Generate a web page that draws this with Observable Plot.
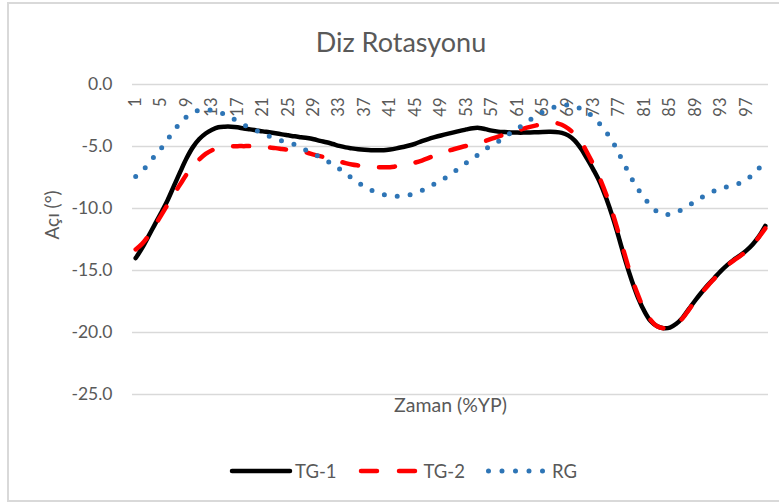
<!DOCTYPE html>
<html>
<head>
<meta charset="utf-8">
<script src="https://cdn.jsdelivr.net/npm/d3@7"></script>
<script src="https://cdn.jsdelivr.net/npm/@observablehq/plot@0.6"></script>
<style>
  html, body { margin: 0; padding: 0; background: #fff; }
  body { width: 779px; height: 504px; overflow: hidden; position: relative; font-family: Lato, "Open Sans", sans-serif; }
  #frame { position: absolute; left: 7px; top: 2px; width: 800px; height: 496px; border: 2px solid #d9d9d9; box-sizing: content-box; }
  #title { position: absolute; left: 0; width: 802px; top: 26px; text-align: center; font-size: 27px; color: #595959; line-height: 32px; }
  #chart { position: absolute; left: 0; top: 0; }
  #legend { position: absolute; left: 0; width: 806px; top: 460px; display: flex; justify-content: center; align-items: center; gap: 21px; font-size: 18.5px; color: #595959; }
  .item { display: flex; align-items: center; gap: 2px; }
  .item svg { display: block; }
</style>
</head>
<body>
<div id="frame"></div>
<div id="title">Diz Rotasyonu</div>
<div id="chart"></div>
<div id="legend"></div>
<script>
// ---- data ----
const zaman = Array.from({length: 100}, (_, i) => i + 1); // %YP categories 1..100
const xTickLabels = [1, 5, 9, 13, 17, 21, 25, 29, 33, 37, 41, 45, 49, 53, 57, 61, 65, 69, 73, 77, 81, 85, 89, 93, 97];
const yTicks = [0, -5, -10, -15, -20, -25];
const seriesNames = ["TG-1", "TG-2", "RG"];
const seriesColors = ["#000000", "#ff0000", "#2e75b6"];

const tg1 = [
  -14.0, -13.2, -12.25, -11.3, -10.35, -9.35, -8.2, -7.05, -5.95, -5.05,
  -4.4, -3.95, -3.65, -3.45, -3.4, -3.4, -3.45, -3.55, -3.62, -3.7,
  -3.78, -3.85, -3.93, -4.02, -4.1, -4.18, -4.25, -4.32, -4.42, -4.55,
  -4.66, -4.8, -4.95, -5.07, -5.15, -5.22, -5.27, -5.3, -5.3, -5.3,
  -5.24, -5.15, -5.04, -4.92, -4.76, -4.57, -4.4, -4.25, -4.11, -3.98,
  -3.86, -3.74, -3.62, -3.52, -3.5, -3.6, -3.72, -3.8, -3.84, -3.87,
  -3.88, -3.88, -3.87, -3.85, -3.83, -3.82, -3.83, -3.9, -4.1, -4.5,
  -5.15, -6.0, -6.9, -7.9, -9.2, -10.7, -12.4, -14.2, -15.8, -17.2,
  -18.3, -19.1, -19.5, -19.65, -19.6, -19.3, -18.8, -18.1, -17.4, -16.75,
  -16.15, -15.6, -15.05, -14.57, -14.15, -13.8, -13.4, -12.9, -12.25, -11.4
];
const tg2 = [
  -13.3, -12.85, -12.2, -11.4, -10.55, -9.7, -8.85, -8.05, -7.25, -6.6,
  -6.05, -5.6, -5.3, -5.15, -5.05, -5.0, -4.97, -4.97, -4.97, -5.0,
  -5.03, -5.08, -5.13, -5.2, -5.27, -5.35, -5.43, -5.5, -5.65, -5.78,
  -5.9, -6.07, -6.2, -6.34, -6.45, -6.53, -6.6, -6.64, -6.67, -6.67,
  -6.67, -6.6, -6.53, -6.42, -6.29, -6.13, -5.94, -5.73, -5.54, -5.38,
  -5.22, -5.08, -4.95, -4.84, -4.73, -4.55, -4.37, -4.2, -4.03, -3.87,
  -3.72, -3.56, -3.42, -3.3, -3.2, -3.12, -3.1, -3.25, -3.55, -4.0,
  -4.6, -5.5, -6.5, -7.6, -8.9, -10.4, -12.1, -13.9, -15.6, -17.0,
  -18.2, -19.0, -19.5, -19.65, -19.6, -19.3, -18.85, -18.15, -17.45, -16.8,
  -16.2, -15.65, -15.1, -14.6, -14.2, -13.85, -13.45, -12.95, -12.3, -11.6
];
const rg = [
  -7.42, -6.95, -6.45, -5.75, -5.15, -4.45, -3.75, -3.1, -2.6, -2.25,
  -2.08, -2.02, -2.08, -2.22, -2.4, -2.68, -2.95, -3.25, -3.48, -3.72,
  -3.95, -4.18, -4.35, -4.55, -4.68, -4.85, -5.1, -5.35, -5.6, -5.85,
  -6.13, -6.45, -6.8, -7.18, -7.55, -7.92, -8.25, -8.52, -8.72, -8.87,
  -8.98, -9.02, -8.98, -8.9, -8.74, -8.55, -8.31, -8.01, -7.74, -7.42,
  -7.07, -6.69, -6.32, -5.95, -5.6, -5.2, -4.9, -4.6, -4.22, -3.9,
  -3.58, -3.2, -2.85, -2.5, -2.22, -2.0, -1.8, -1.67, -1.65, -1.75,
  -1.97, -2.25, -2.65, -3.2, -3.85, -4.6, -5.6, -6.6, -7.6, -8.45,
  -9.15, -9.8, -10.25, -10.48, -10.45, -10.3, -10.05, -9.75, -9.42, -9.1,
  -8.82, -8.58, -8.38, -8.24, -8.12, -7.95, -7.7, -7.25, -6.75, -6.2
];

const seriesValues = [tg1, tg2, rg];
const rows = seriesNames.map((s, k) => zaman.map((t, i) => ({t, v: seriesValues[k][i], s})));

const lineStyles = {
  "TG-1": {stroke: seriesColors[0], strokeWidth: 4.5, strokeLinecap: "round"},
  "TG-2": {stroke: seriesColors[1], strokeWidth: 4.5, strokeDasharray: "16 21", strokeLinecap: "round"},
  "RG":   {stroke: seriesColors[2], strokeWidth: 5, strokeDasharray: "0 13", strokeLinecap: "round"}
};

const W = 779, H = 420;
const gray = "#595959";

const chart = Plot.plot({
  width: W,
  height: H,
  marginLeft: 132,
  marginRight: 11,
  marginTop: 84,
  marginBottom: 26,
  style: {fontFamily: "Lato, 'Open Sans', sans-serif", color: gray, background: "transparent", overflow: "visible"},
  x: {type: "linear", domain: [0.5, 100.5], axis: null},
  y: {domain: [-25, 0], axis: null},
  marks: [
    Plot.ruleY(yTicks, {stroke: "#d9d9d9", strokeWidth: 1.6}),
    Plot.axisY(yTicks, {tickSize: 0, tickPadding: 20, tickFormat: d => d.toFixed(1), fontSize: 17.5, fill: gray, label: null}),
    Plot.text(xTickLabels, {x: d => d, y: 0, text: d => String(d), rotate: -90, textAnchor: "end", lineAnchor: "middle", dy: 13, fontSize: 16.5, fill: gray}),
    Plot.text(["Zaman (%YP)"], {frameAnchor: "bottom", dy: 17, fontSize: 19.5, fill: gray}),
    Plot.text(["Açı (°)"], {frameAnchor: "left", dx: -80, rotate: -90, fontSize: 19, fill: gray}),
    ...rows.map((r, k) => Plot.line(r, {x: "t", y: "v", curve: "catmull-rom", ...lineStyles[seriesNames[k]]}))
  ]
});
document.getElementById("chart").appendChild(chart);

// legend
const legend = d3.select("#legend");
seriesNames.forEach((name) => {
  const st = lineStyles[name];
  const item = legend.append("div").attr("class", "item");
  const svg = item.append("svg").attr("width", 64).attr("height", 20);
  svg.append("line")
    .attr("x1", name === "RG" ? 2.5 : 3).attr("x2", name === "RG" ? 62 : 61)
    .attr("y1", 10).attr("y2", 10)
    .attr("stroke", st.stroke)
    .attr("stroke-width", st.strokeWidth)
    .attr("stroke-linecap", "round")
    .attr("stroke-dasharray", name === "TG-2" ? "16 22" : (name === "RG" ? "0 13.5" : null));
  item.append("span").text(name);
});
</script>
</body>
</html>
